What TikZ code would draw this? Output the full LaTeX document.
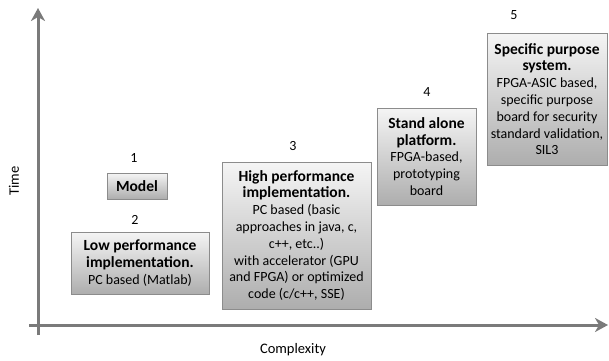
\documentclass[tikz,border=0pt]{standalone}
\usepackage{fontspec}
\setmainfont{Carlito}
\usetikzlibrary{arrows.meta}
\tikzset{
  stagebox/.style={draw=black!45, line width=1pt, top color=black!4, bottom color=black!32,
    align=center, inner sep=0pt, font=\fontsize{14}{16.8}\selectfont},
  numlabel/.style={font=\fontsize{14}{16}\selectfont, inner sep=0pt},
  axislabel/.style={font=\fontsize{14.5}{17}\selectfont, inner sep=0pt},
  axisline/.style={draw=black!52, line width=3pt, -{Stealth[length=13pt,width=14pt,inset=4pt]}}
}
\newcommand{\ttl}[1]{{\fontsize{15.5}{18.5}\selectfont\bfseries #1}}
\begin{document}
\begin{tikzpicture}[x=1pt,y=1pt]
\useasboundingbox (0,0) rectangle (609,360);
% axes
\coordinate (yb) at (38,25);
\coordinate (yt) at (38,352);
\coordinate (xl) at (29,35);
\coordinate (xr) at (608,35);
\draw[axisline] (yb) -- (yt);
\draw[axisline] (xl) -- (xr);
\node[axislabel, rotate=90] (time) at (14,179) {Time};
\node[axislabel] (cplx) at (293,10) {Complexity};
% boxes
\node[stagebox, minimum width=60pt, minimum height=26pt] (model) at (137,174) {\ttl{Model}};
\node[stagebox, minimum width=138pt, minimum height=62pt] (low) at (140,97)
  {\ttl{Low performance}\\\ttl{implementation.}\\PC based (Matlab)};
\node[stagebox, minimum width=149pt, minimum height=147pt] (high) at (296.5,124.5)
  {\ttl{High performance}\\\ttl{implementation.}\\PC based (basic\\approaches in java, c,\\c++, etc..)\\with accelerator (GPU\\and FPGA) or optimized\\code (c/c++, SSE)};
\node[stagebox, minimum width=99pt, minimum height=97pt] (stand) at (426.5,203.5)
  {\ttl{Stand alone}\\\ttl{platform.}\\FPGA-based,\\prototyping\\board};
\node[stagebox, minimum width=120pt, minimum height=132pt] (spec) at (547,261)
  {\ttl{Specific purpose}\\\ttl{system.}\\FPGA-ASIC based,\\specific purpose\\board for security\\standard validation,\\SIL3};
% numbers
\node[numlabel] (n1) at (134,202) {1};
\node[numlabel] (n2) at (135,140) {2};
\node[numlabel] (n3) at (293,214) {3};
\node[numlabel] (n4) at (427,268) {4};
\node[numlabel] (n5) at (514,345) {5};
\end{tikzpicture}
\end{document}
